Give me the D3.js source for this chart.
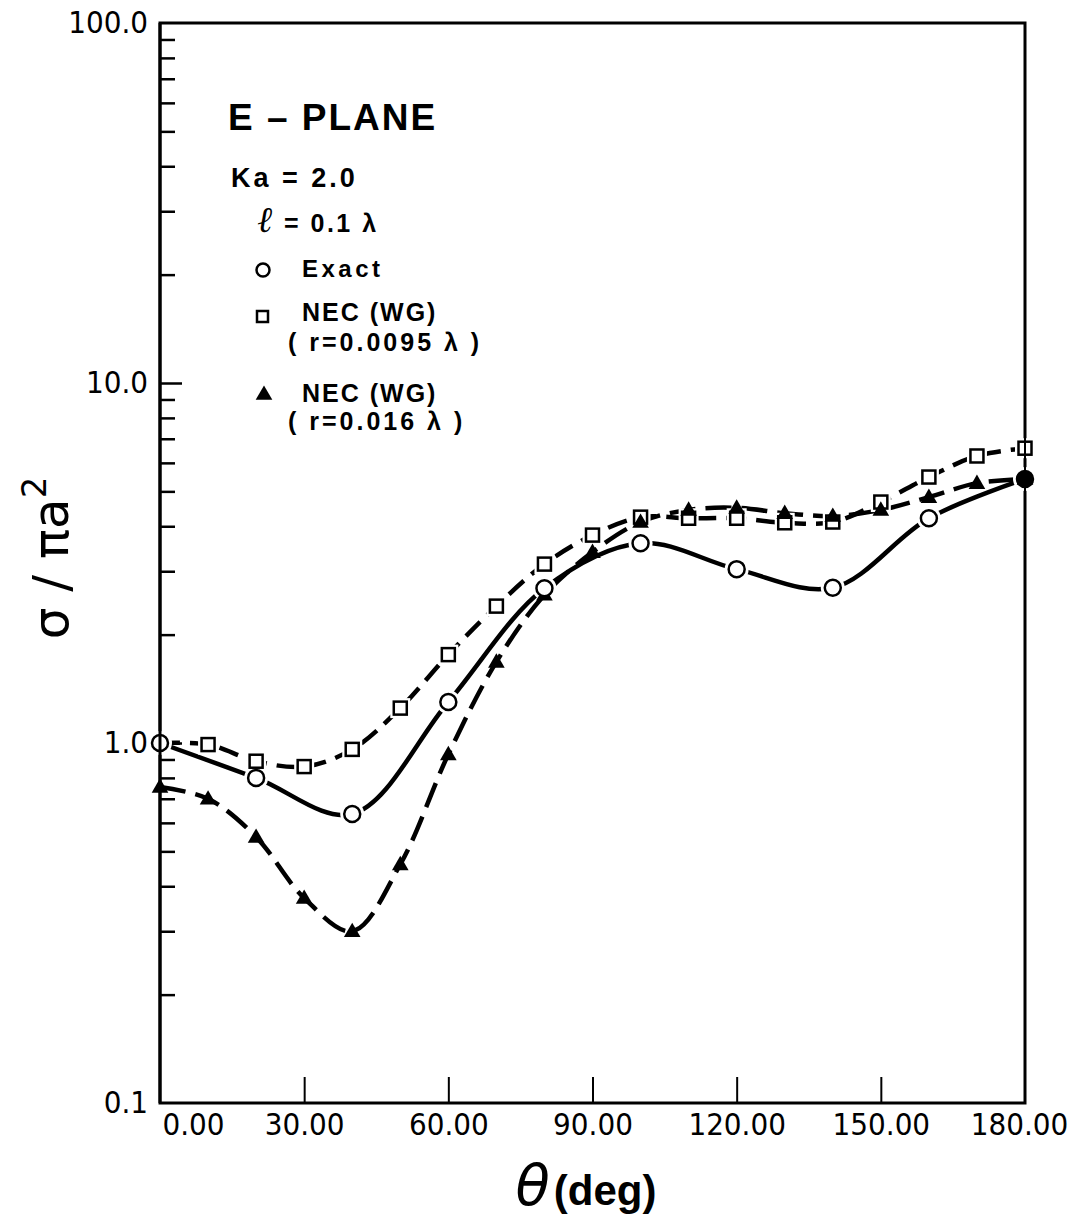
<!DOCTYPE html>
<html><head><meta charset="utf-8">
<script src="https://cdn.jsdelivr.net/npm/d3@7"></script>
<style>body{margin:0;background:#fff}</style>
</head><body><svg id="c" width="1072" height="1220" xmlns="http://www.w3.org/2000/svg"></svg>
<script>
// ---- data ----
const anglesExact = [0,20,40,60,80,100,120,140,160,180];
const exactValues = [1.0,0.80,0.635,1.30,2.69,3.59,3.04,2.70,4.21,5.41];
const anglesNEC = [0,10,20,30,40,50,60,70,80,90,100,110,120,130,140,150,160,170,180];
const necR0095 = [1.0,0.99,0.89,0.86,0.96,1.25,1.76,2.40,3.14,3.78,4.24,4.21,4.21,4.09,4.11,4.67,5.48,6.27,6.59];
const necR016 = [0.755,0.70,0.548,0.371,0.30,0.46,0.93,1.68,2.58,3.39,4.11,4.44,4.50,4.35,4.27,4.44,4.82,5.27,5.41];
const xTickValues = [0,30,60,90,120,150,180];
const xTickLabels = ["0.00","30.00","60.00","90.00","120.00","150.00","180.00"];
const yTickValues = [0.1,1,10,100];
const yTickLabels = ["0.1","1.0","10.0","100.0"];

// ---- layout ----
const svg = d3.select("#c");
const x = d3.scaleLinear().domain([0,180]).range([160,1025]);
const y = d3.scaleLog().domain([0.1,100]).range([1103,23]);
const tickFont = "'DejaVu Sans Condensed','Liberation Sans Narrow','DejaVu Sans',sans-serif";
const boldFont = "'Liberation Sans',Arial,sans-serif";

// frame
svg.append("rect").attr("x",x(0)).attr("y",y(100)).attr("width",x(180)-x(0)).attr("height",y(0.1)-y(100))
  .attr("fill","none").attr("stroke","#000").attr("stroke-width",3);

// y minor ticks
const minor = [];
[0.1,1,10].forEach(b=>{for(let k=2;k<=9;k++) minor.push(b*k);});
const yMinor = svg.append("g").attr("transform",`translate(${x(0)},0)`)
  .call(d3.axisRight(y).tickValues(minor).tickSize(15).tickFormat(""));
const yMajor = svg.append("g").attr("transform",`translate(${x(0)},0)`)
  .call(d3.axisRight(y).tickValues([10,1]).tickSize(22).tickFormat(""));
const yLab = svg.append("g").attr("transform",`translate(${x(0)},0)`)
  .call(d3.axisLeft(y).tickValues(yTickValues).tickSize(0).tickPadding(12).tickFormat((d,i)=>yTickLabels[i]));
[yMinor,yMajor,yLab].forEach(g=>{g.select(".domain").remove();});
svg.selectAll("g .tick line").attr("stroke","#000").attr("stroke-width",2.5);
yLab.selectAll("text").attr("font-family",tickFont).attr("font-size",31).attr("fill","#000");

// x ticks (inward) and labels
const xT = svg.append("g").attr("transform",`translate(0,${y(0.1)})`)
  .call(d3.axisTop(x).tickValues(xTickValues.slice(1,-1)).tickSize(26).tickFormat(""));
xT.select(".domain").remove();
xT.selectAll("line").attr("stroke","#000").attr("stroke-width",2);
const xL = svg.append("g").attr("transform",`translate(0,${y(0.1)})`)
  .call(d3.axisBottom(x).tickValues(xTickValues).tickSize(0).tickPadding(10).tickFormat((d,i)=>xTickLabels[i]));
xL.select(".domain").remove();
xL.selectAll("text").attr("font-family",tickFont).attr("font-size",31).attr("fill","#000")
  .attr("text-anchor",(d,i)=> i===0 ? "start" : "middle")
  .attr("dx",(d,i)=> i===0 ? 2 : (i===xTickValues.length-1 ? -6 : 0));

// axis titles
svg.append("text").attr("transform","translate(68,558) rotate(-90)").attr("text-anchor","middle")
  .attr("font-family","'DejaVu Sans',sans-serif").attr("font-size",50).attr("fill","#000")
  .html('σ / πa<tspan dy="-22" font-size="34">2</tspan>');
const xt = svg.append("text").attr("x",586).attr("y",1205).attr("text-anchor","middle").attr("fill","#000");
xt.append("tspan").attr("font-family","'DejaVu Sans',sans-serif").attr("font-style","italic").attr("font-size",56).text("θ");
xt.append("tspan").attr("font-family",boldFont).attr("font-weight","bold").attr("font-size",42).attr("dx",4).text("(deg)");

// ---- curves ----
const line = d3.line().x(d=>x(d[0])).y(d=>y(d[1])).curve(d3.curveCatmullRom.alpha(0.5));
const exactPts = anglesExact.map((a,i)=>[a,exactValues[i]]);
const sqPts = anglesNEC.map((a,i)=>[a,necR0095[i]]);
const trPts = anglesNEC.map((a,i)=>[a,necR016[i]]);
svg.append("path").attr("d",line(sqPts)).attr("fill","none").attr("stroke","#000").attr("stroke-width",4.5).attr("stroke-dasharray","20 10");
svg.append("path").attr("d",line(trPts)).attr("fill","none").attr("stroke","#000").attr("stroke-width",4.5).attr("stroke-dasharray","26 10");
svg.append("path").attr("d",line(exactPts)).attr("fill","none").attr("stroke","#000").attr("stroke-width",4.5);

// ---- markers ----
const triSym = d3.symbol().type(d3.symbolTriangle).size(120);
// halos
const halo = svg.append("g");
halo.selectAll("circle").data(exactPts).join("circle").attr("cx",d=>x(d[0])).attr("cy",d=>y(d[1])).attr("r",12).attr("fill","#fff");
halo.selectAll("rect").data(sqPts.slice(1)).join("rect").attr("x",d=>x(d[0])-10).attr("y",d=>y(d[1])-10).attr("width",20).attr("height",20).attr("fill","#fff");
// squares
svg.append("g").selectAll("rect").data(sqPts.slice(1)).join("rect")
  .attr("x",d=>x(d[0])-6.5).attr("y",d=>y(d[1])-6.5).attr("width",13).attr("height",13)
  .attr("fill","#fff").attr("stroke","#000").attr("stroke-width",2.5);
// triangles
svg.append("g").selectAll("path").data(trPts).join("path")
  .attr("transform",d=>`translate(${x(d[0])},${y(d[1])+1})`).attr("d",triSym).attr("fill","#000");
// circles
svg.append("g").selectAll("circle").data(exactPts).join("circle")
  .attr("cx",d=>x(d[0])).attr("cy",d=>y(d[1])).attr("r",8)
  .attr("fill",(d,i)=> i===exactPts.length-1 ? "#000" : "#fff").attr("stroke","#000").attr("stroke-width",2.5);
// redraw left/right axis lines over halos
svg.append("line").attr("x1",x(0)).attr("x2",x(0)).attr("y1",y(100)).attr("y2",y(0.1)).attr("stroke","#000").attr("stroke-width",3);
svg.append("line").attr("x1",x(180)).attr("x2",x(180)).attr("y1",y(100)).attr("y2",y(0.1)).attr("stroke","#000").attr("stroke-width",2);

// ---- legend / annotations ----
const ann = svg.append("g").attr("font-family",boldFont).attr("font-weight","bold").attr("fill","#000");
ann.append("text").attr("x",228).attr("y",130).attr("font-size",37).attr("letter-spacing",2).attr("xml:space","preserve").text("E – PLANE");
ann.append("text").attr("x",231).attr("y",187).attr("font-size",27).attr("letter-spacing",3).text("Ka = 2.0");
ann.append("text").attr("x",257).attr("y",232).attr("font-size",25).attr("letter-spacing",2.5)
  .html('<tspan font-family="\'DejaVu Serif\',serif" font-style="italic" font-weight="normal" font-size="36">ℓ</tspan> = 0.1 λ');
ann.append("text").attr("x",302).attr("y",277).attr("font-size",24).attr("letter-spacing",3.5).text("Exact");
ann.append("text").attr("x",302).attr("y",321).attr("font-size",25).attr("letter-spacing",2).text("NEC (WG)");
ann.append("text").attr("x",288).attr("y",351).attr("font-size",25).attr("letter-spacing",3).text("( r=0.0095 λ )");
ann.append("text").attr("x",302).attr("y",402).attr("font-size",25).attr("letter-spacing",2).text("NEC (WG)");
ann.append("text").attr("x",288).attr("y",430).attr("font-size",25).attr("letter-spacing",3).text("( r=0.016 λ )");
svg.append("circle").attr("cx",263).attr("cy",270).attr("r",6.5).attr("fill","#fff").attr("stroke","#000").attr("stroke-width",2.5);
svg.append("rect").attr("x",257).attr("y",311).attr("width",11).attr("height",11).attr("fill","#fff").attr("stroke","#000").attr("stroke-width",2.5);
svg.append("path").attr("transform","translate(264,395)").attr("d",triSym).attr("fill","#000");
</script>
</body></html>
